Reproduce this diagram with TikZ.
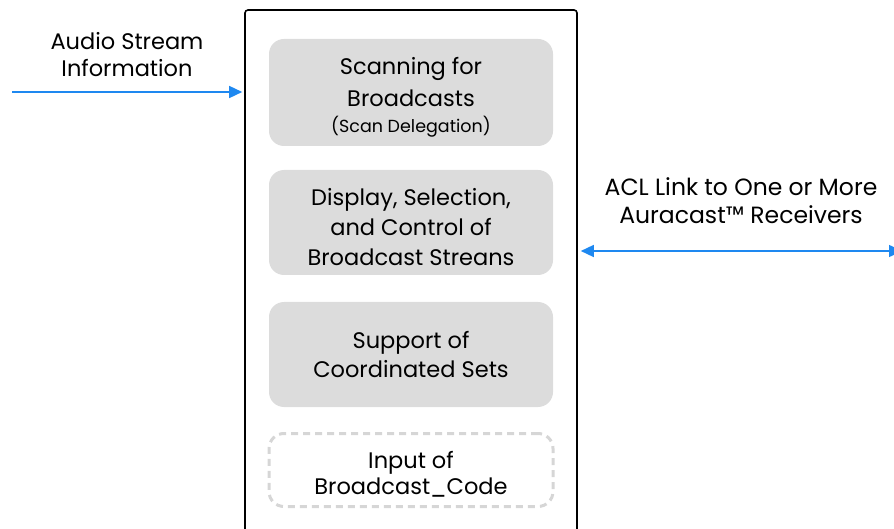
\documentclass[tikz,border=0pt]{standalone}
\usepackage{fontspec}
\setmainfont{Poppins}
\usetikzlibrary{arrows.meta}
\definecolor{linkblue}{HTML}{1E88F0}
\definecolor{boxgray}{HTML}{DCDCDC}
\definecolor{dashgray}{HTML}{D6D6D6}
\tikzset{
  lbl/.style={font=\fontsize{22.5pt}{29pt}\selectfont, align=center, inner sep=0pt},
  feature/.style={fill=boxgray, rounded corners=15pt, minimum width=284pt},
  optional/.style={draw=dashgray, line width=3pt, dash pattern=on 7pt off 5pt, rounded corners=15pt, minimum width=284pt},
  link/.style={draw=linkblue, line width=1.5pt},
  tip/.style={-{Triangle[length=13pt,width=12pt]}},
  twotip/.style={{Triangle[length=13pt,width=12pt]}-{Triangle[length=13pt,width=12pt]}},
}
\begin{document}
\begin{tikzpicture}[x=1pt,y=1pt]
\clip (0,0) rectangle (894,-529);
% container
\node[draw, line width=1.6pt, rounded corners=3pt, minimum width=332pt, minimum height=540pt, inner sep=0pt] (panel) at (411,-280) {};
% feature blocks
\node[feature, minimum height=107pt] (scan) at (411,-92.5) {};
\node[feature, minimum height=105pt] (select) at (411,-222.5) {};
\node[feature, minimum height=105pt] (coord) at (411,-354.5) {};
\node[optional, minimum height=73pt] (code) at (411,-470) {};
% block captions
\node[lbl, yshift=-5pt] (scantxt) at (scan) {Scanning for\\[3pt]Broadcasts\\[-3pt]{\fontsize{17.5pt}{22pt}\selectfont (Scan Delegation)}};
\node[lbl, yshift=-5pt, font=\fontsize{22.5pt}{30pt}\selectfont] (selecttxt) at (select) {Display, Selection,\\and Control of\\Broadcast Streans};
\node[lbl] (coordtxt) at (coord) {Support of\\Coordinated Sets};
\node[lbl, yshift=-4pt] (codetxt) at (code) {Input of\\[-3pt]Broadcast\_Code};
% external links
\node[lbl] (audiolbl) at (127,-55) {Audio Stream\\[-2pt]Information};
\coordinate (audiosrc) at (12,-92);
\draw[link, tip, shorten >=2pt] (audiosrc) -- (panel.west |- audiosrc);
\node[lbl, font=\fontsize{23.5pt}{29pt}\selectfont] (acllbl) at (741,-201) {ACL Link to One or More\\[-1pt]Auracast™ Receivers};
\coordinate (aclend) at (902,-251);
\draw[link, twotip, shorten <=3pt] (panel.east |- aclend) -- (aclend);
\end{tikzpicture}
\end{document}
